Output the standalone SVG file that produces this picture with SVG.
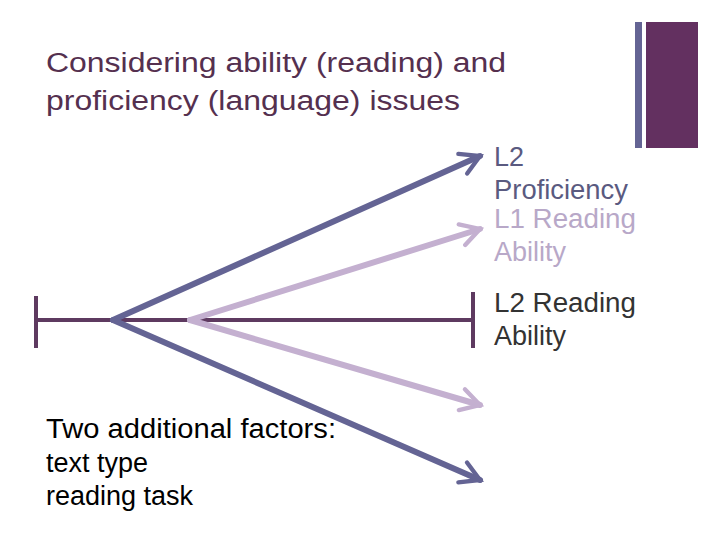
<svg xmlns="http://www.w3.org/2000/svg" width="720" height="540" viewBox="0 0 720 540">
<style>
text{font-family:"Liberation Sans",Arial,sans-serif;font-size:27px}
.dk{stroke:#646494;stroke-width:6;fill:none;stroke-linecap:round}
.lt{stroke:#c4b0d0;stroke-width:6;fill:none;stroke-linecap:round}
</style>
<defs>
<marker id="ad" viewBox="0 0 10 10" refX="8" refY="5" markerWidth="4.5" markerHeight="4.5" orient="auto" markerUnits="strokeWidth"><path d="M1,1 L8,5 L1,9" fill="none" stroke="#646494" stroke-width="1.6" stroke-linecap="round"/></marker>
<marker id="al" viewBox="0 0 10 10" refX="8" refY="5" markerWidth="4.5" markerHeight="4.5" orient="auto" markerUnits="strokeWidth"><path d="M1,1 L8,5 L1,9" fill="none" stroke="#c4b0d0" stroke-width="1.6" stroke-linecap="round"/></marker>
</defs>
<rect width="720" height="540" fill="#fff"/>
<g id="decor">
<rect x="635" y="22" width="7" height="126" fill="#646494"/>
<rect x="646" y="22" width="52" height="126" fill="#633060"/>
</g>
<g id="title"><text x="46" y="72" fill="#55304f" font-size="29" textLength="460" lengthAdjust="spacingAndGlyphs">Considering ability (reading) and</text><text x="46" y="110" fill="#55304f" font-size="29" textLength="414" lengthAdjust="spacingAndGlyphs">proficiency (language) issues</text></g>
<g id="connectors">
<line x1="36" y1="320" x2="473" y2="320" stroke="#5e3a60" stroke-width="4"/>
<line x1="36" y1="296" x2="36" y2="348" stroke="#5e3a60" stroke-width="4"/>
<line x1="473" y1="292" x2="473" y2="348" stroke="#5e3a60" stroke-width="4"/>
<line class="lt" x1="190" y1="320" x2="480" y2="229" marker-end="url(#al)"/>
<line class="lt" x1="190" y1="320" x2="480" y2="405" marker-end="url(#al)"/>
<line class="dk" x1="113" y1="320" x2="480" y2="156" marker-end="url(#ad)"/>
<line class="dk" x1="113" y1="320" x2="480" y2="480" marker-end="url(#ad)"/>
</g>
<g id="n-l2p"><text x="494" y="166" fill="#5a5a80">L2</text><text x="494" y="199" fill="#5a5a80" textLength="134" lengthAdjust="spacingAndGlyphs">Proficiency</text></g>
<g id="n-l1r"><text x="494" y="228" fill="#b8a8c8" textLength="142" lengthAdjust="spacingAndGlyphs">L1 Reading</text><text x="494" y="261" fill="#b8a8c8">Ability</text></g>
<g id="n-l2r"><text x="494" y="312" fill="#333" textLength="142" lengthAdjust="spacingAndGlyphs">L2 Reading</text><text x="494" y="345" fill="#333">Ability</text></g>
<g id="n-factors"><text x="46" y="438" fill="#000" textLength="290" lengthAdjust="spacingAndGlyphs">Two additional factors:</text><text x="46" y="472" fill="#000">text type</text><text x="46" y="505" fill="#000">reading task</text></g>
</svg>
